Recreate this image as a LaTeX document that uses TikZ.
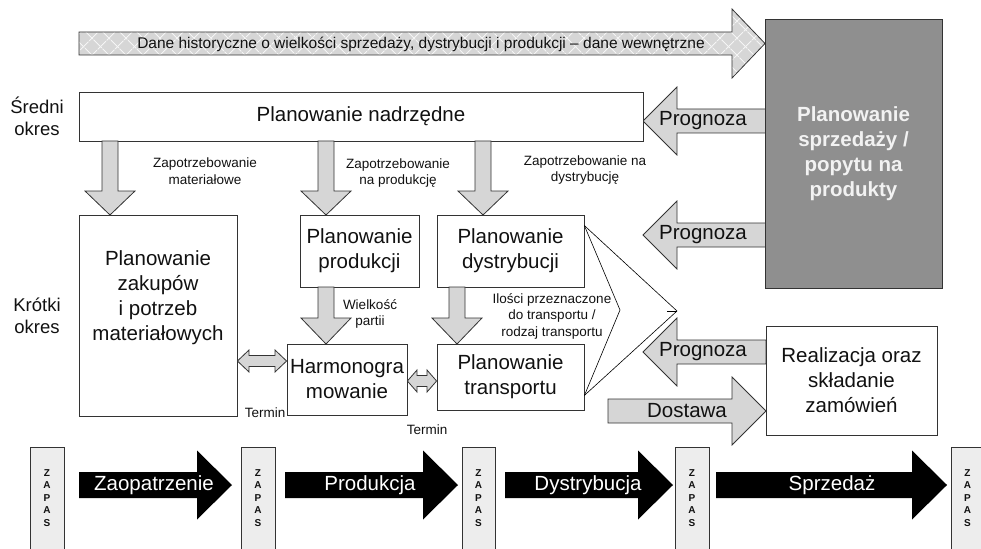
\documentclass[tikz,border=0pt]{standalone}
\usepackage{fontspec}
\setmainfont{Liberation Sans}
\usetikzlibrary{patterns.meta,calc}
\definecolor{linec}{HTML}{333333}
\definecolor{afill}{HTML}{D6D6D6}
\definecolor{gbox}{HTML}{8F8F8F}
\definecolor{zfill}{HTML}{EDEDED}
\definecolor{txt}{HTML}{111111}
\definecolor{gtxt}{HTML}{F2F2F2}
\tikzset{
  box/.style={draw=linec, line width=0.8pt, fill=white, inner sep=0pt, align=center, text=txt, font=\fontsize{20.5}{25}\selectfont},
  big/.style={font=\fontsize{20.5}{25}\selectfont, align=center, text=txt, inner sep=0pt},
  side/.style={font=\fontsize{18.5}{22}\selectfont, align=center, text=txt, inner sep=0pt},
  small/.style={font=\fontsize{13.5}{16.5}\selectfont, align=center, text=txt, inner sep=0pt},
  blk/.style={draw=linec, line width=0.8pt, fill=afill, line join=miter},
  flow/.style={fill=black},
  flowtxt/.style={font=\fontsize{20.5}{25}\selectfont, text=white, inner sep=0pt},
  zapas/.style={draw=linec, line width=0.8pt, fill=zfill},
  zapastxt/.style={font=\fontsize{10}{12.5}\selectfont\bfseries, align=center, text=txt, inner sep=0pt},
  fan/.style={draw=black, line width=0.6pt},
}
\begin{document}
\begin{tikzpicture}[x=1pt,y=-1pt]
\useasboundingbox (0,0) rectangle (981,548);

% ---------- top arrow ----------
\path[fill=afill] (79,32) -- (732,32) -- (732,9) -- (765,43.5) -- (732,78) -- (732,55) -- (79,55) -- cycle;
\path[pattern={Lines[angle=45,distance=13pt,line width=1.2pt]}, pattern color=white!75!afill] (79,32) -- (732,32) -- (732,9) -- (765,43.5) -- (732,78) -- (732,55) -- (79,55) -- cycle;
\path[pattern={Lines[angle=-45,distance=13pt,line width=1.2pt]}, pattern color=white!75!afill] (79,32) -- (732,32) -- (732,9) -- (765,43.5) -- (732,78) -- (732,55) -- (79,55) -- cycle;
\draw[draw=linec, line width=0.8pt] (79,32) -- (732,32) -- (732,9) -- (765,43.5) -- (732,78) -- (732,55) -- (79,55) -- cycle;
\node[font=\fontsize{15.5}{18}\selectfont, text=txt, inner sep=0pt] (hist) at (421,44) {Dane historyczne o wielkości sprzedaży, dystrybucji i produkcji – dane wewnętrzne};

% ---------- side labels ----------
\node[side] (sredni) at (37,116) {Średni\\okres};
\node[side] (krotki) at (37,316) {Krótki\\okres};

% ---------- Prognoza / Dostawa arrows ----------
\foreach \cy in {121,235,352}{
  \draw[blk] (766,\cy-12) -- (677,\cy-12) -- (677,\cy-34) -- (643,\cy) -- (677,\cy+34) -- (677,\cy+12) -- (766,\cy+12) -- cycle;
}
\node[big] (prog1) at (703,121) {Prognoza};
\node[big] (prog2) at (703,235) {Prognoza};
\node[big] (prog3) at (703,352) {Prognoza};
\draw[blk] (608,399) -- (732,399) -- (732,377) -- (766,411) -- (732,445) -- (732,423) -- (608,423) -- cycle;
\node[big] (dost) at (687,411) {Dostawa};

% ---------- boxes ----------
\node[box, minimum width=564pt, minimum height=49pt] (nadr) at (361,116.5) {Planowanie nadrzędne};
\node[box, minimum width=158pt, minimum height=201pt] (zak) at (158,315.5) {};
\node[big] (zakt) at (158,298) {Planowanie\\zakupów\\i potrzeb\\materiałowych};
\node[box, minimum width=119pt, minimum height=72pt] (prod) at (359.5,251) {Planowanie\\produkcji};
\node[box, minimum width=147pt, minimum height=72pt] (dys) at (510.5,251) {Planowanie\\dystrybucji};
\node[box, minimum width=120pt, minimum height=71pt] (harm) at (347,379.5) {Harmonogra\\mowanie};
\node[box, minimum width=147pt, minimum height=66pt] (trans) at (510.5,377) {Planowanie\\transportu};
\node[box, fill=gbox, text=gtxt, font=\fontsize{20.5}{25}\selectfont\bfseries, minimum width=177pt, minimum height=269pt] (sales) at (853.5,153.5) {Planowanie\\sprzedaży /\\popytu na\\produkty};
\node[box, minimum width=171pt, minimum height=109pt] (real) at (851.5,380.5) {Realizacja oraz\\składanie\\zamówień};

% ---------- down arrows ----------
\foreach \cx/\ya/\yb/\yc in {110/141/191/215, 326/141/191/215, 483/141/191/215, 326/287/318/344, 457/287/318/344}{
  \draw[blk] (\cx-8,\ya) -- (\cx-8,\yb) -- (\cx-25,\yb) -- (\cx,\yc) -- (\cx+25,\yb) -- (\cx+8,\yb) -- (\cx+8,\ya) -- cycle;
}

% ---------- labels ----------
\node[small] (l1) at (205,171) {Zapotrzebowanie\\materiałowe};
\node[small] (l2) at (398,173) {Zapotrzebowanie\\na produkcję};
\node[small] (l3) at (585,170) {Zapotrzebowanie na\\dystrybucję};
\node[small] (l4) at (370,314) {Wielkość\\partii};
\node[small] (l5) at (552,316) {Ilości przeznaczone\\do transportu /\\rodzaj transportu};
\node[small] (term1) at (265,413) {Termin};
\node[small] (term2) at (427,430) {Termin};

% ---------- double arrows ----------
\draw[blk] (zak.east |- 0,361) -- (249,350) -- (249,355.5) -- (275,355.5) -- (275,350) -- (harm.west |- 0,361) -- (275,372) -- (275,366.5) -- (249,366.5) -- (249,372) -- cycle;
\draw[blk] (harm.east |- 0,381) -- (417,370) -- (417,375.5) -- (427,375.5) -- (427,370) -- (trans.west |- 0,381) -- (427,392) -- (427,386.5) -- (417,386.5) -- (417,392) -- cycle;

% ---------- fan ----------
\coordinate (ftop) at ($(dys.north east)+(0,11)$);
\coordinate (fbot) at ($(trans.south east)+(0,-15)$);
\coordinate (fin) at (620,310);
\coordinate (fout) at (677,311);
\coordinate (ftick) at (667,311);
\draw[fan] (ftop) -- (fin) -- (fbot);
\draw[fan] (ftop) -- (fout) -- (fbot);
\draw[fan] (ftick) -- (fout);

% ---------- bottom flow ----------
\foreach \xa/\xb in {30/64, 241/275, 462/495, 675/709, 951/990}{
  \draw[zapas] (\xa,560) -- (\xa,447) -- (\xb,447) -- (\xb,560);
}
\node[zapastxt] (z1) at (47,498) {Z\\A\\P\\A\\S};
\node[zapastxt] (z2) at (258,498) {Z\\A\\P\\A\\S};
\node[zapastxt] (z3) at (478.5,498) {Z\\A\\P\\A\\S};
\node[zapastxt] (z4) at (692,498) {Z\\A\\P\\A\\S};
\node[zapastxt] (z5) at (967.5,498) {Z\\A\\P\\A\\S};

\foreach \xa/\xb/\xc in {79/197/232, 285/423/458, 505/638/673, 716/912/947}{
  \fill[flow] (\xa,472) -- (\xb,472) -- (\xb,450.5) -- (\xc,485) -- (\xb,519.5) -- (\xb,498) -- (\xa,498) -- cycle;
}
\node[flowtxt] (f1) at (154,485) {Zaopatrzenie};
\node[flowtxt] (f2) at (370,485) {Produkcja};
\node[flowtxt] (f3) at (588,485) {Dystrybucja};
\node[flowtxt] (f4) at (832,485) {Sprzedaż};
\end{tikzpicture}
\end{document}
